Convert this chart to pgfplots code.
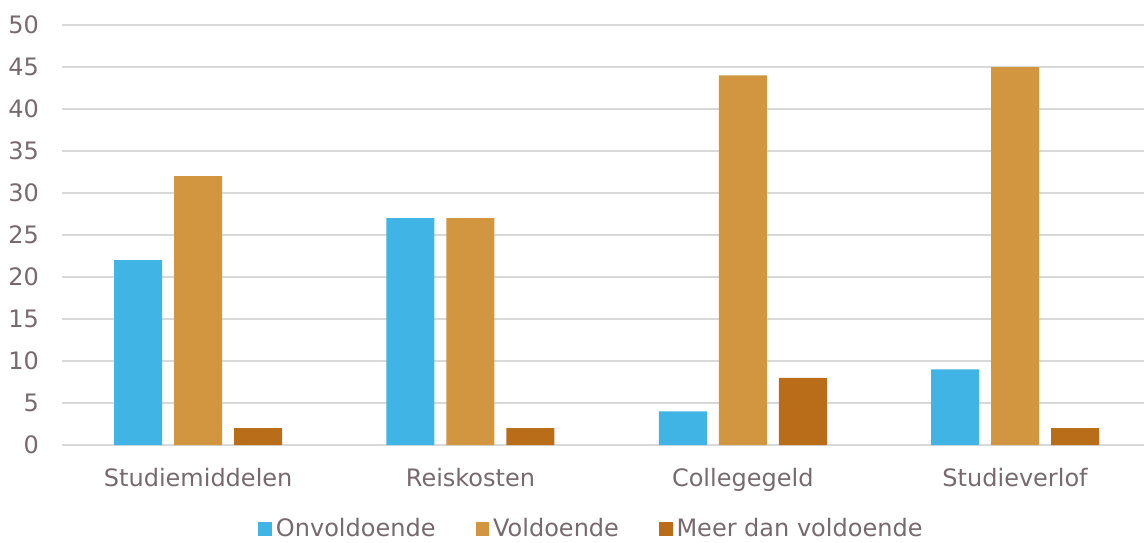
\documentclass[border=0pt]{standalone}
\usepackage{pgfplots}
\pgfplotsset{compat=1.18}
\usepackage{fontspec}
\setmainfont{DejaVu Sans}
\definecolor{onv}{HTML}{41B4E6}
\definecolor{vold}{HTML}{D29641}
\definecolor{meer}{HTML}{B96D19}
\definecolor{txt}{HTML}{766A6E}
\definecolor{grd}{HTML}{D9D9D9}

\begin{document}
\begin{tikzpicture}
    \begin{axis}[
        at={(0,0)},
        scale only axis,
        width=544.6pt,
        height=210pt,
        xmin=-0.5, xmax=3.5,
        ymin=0, ymax=50,
        ytick={0,5,...,50},
        xtick={0,1,2,3},
        xticklabels={Studiemiddelen,Reiskosten,Collegegeld,Studieverlof},
        ymajorgrids,
        grid style={grd, line width=0.9pt},
        axis line style={draw=none},
        major tick style={draw=none},
        ybar=6pt,
        bar width=24pt,
        /pgf/number format/assume math mode=true,
        ticklabel style={font=\fontsize{12}{14}\selectfont, text=txt},
        yticklabel style={xshift=-8pt},
        xticklabel style={yshift=-4pt},
        legend style={
            at={(0.487,-0.2)}, anchor=center,
            draw=none, legend columns=-1,
            font=\fontsize{12}{14}\selectfont, text=txt,
            /tikz/every even column/.append style={column sep=18pt},
        },
        legend image code/.code={\fill (0pt,-3.4pt) rectangle (6.8pt,3.4pt);},
    ]
        \addplot[fill=onv, draw=none] coordinates {(0,22) (1,27) (2,4) (3,9)};
        \addplot[fill=vold, draw=none] coordinates {(0,32) (1,27) (2,44) (3,45)};
        \addplot[fill=meer, draw=none] coordinates {(0,2) (1,2) (2,8) (3,2)};
        \legend{Onvoldoende,Voldoende,Meer dan voldoende}
    \end{axis}
    \pgfresetboundingbox
    \useasboundingbox (-31pt,-48.5pt) rectangle (541pt,222.5pt);
\end{tikzpicture}
\end{document}
